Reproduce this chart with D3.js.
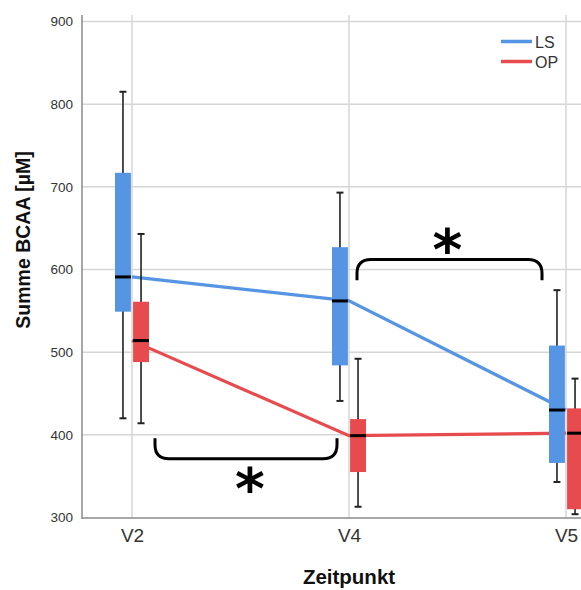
<!DOCTYPE html>
<html>
<head>
<meta charset="utf-8">
<script src="https://cdn.jsdelivr.net/npm/d3@7"></script>
<style>
  html, body { margin: 0; padding: 0; background: #fff; }
  svg { display: block; font-family: "Liberation Sans", Arial, sans-serif; }
</style>
</head>
<body>
<svg id="chart" width="581" height="590"></svg>
<script>
// Time points and groups
const categories = ["V2", "V4", "V5"];
const seriesNames = ["LS", "OP"];
const yTicks = [300, 400, 500, 600, 700, 800, 900];

// LS group: box-plot summaries per time point
const lsLow    = [420, 441, 343];
const lsQ1     = [549, 484, 366];
const lsMedian = [591, 562, 430];
const lsQ3     = [717, 627, 508];
const lsHigh   = [815, 693, 575];

// OP group: box-plot summaries per time point
const opLow    = [414, 313, 304];
const opQ1     = [488, 355, 310];
const opMedian = [514, 399, 402];
const opQ3     = [561, 419, 432];
const opHigh   = [643, 492, 468];

// Significance brackets between time points
const brackets = [
  { from: "V2", to: "V4", low: 371, high: 396, side: "below", label: "*" },
  { from: "V4", to: "V5", low: 587, high: 612, side: "above", label: "*" }
];

const colors = { LS: "#5595e3", OP: "#e84b4d" };

const series = [
  { name: "LS", low: lsLow, q1: lsQ1, med: lsMedian, q3: lsQ3, high: lsHigh },
  { name: "OP", low: opLow, q1: opQ1, med: opMedian, q3: opQ3, high: opHigh }
];

const svg = d3.select("#chart");
const plot = { left: 82, top: 15, bottom: 518, right: 640 };

const x = d3.scalePoint().domain(categories).range([132, 566]);
const y = d3.scaleLinear().domain([300, 900]).range([517.5, 21.5]);
const dodge = d3.scaleBand().domain(seriesNames).range([-17, 17]).paddingInner(0.12);
const boxW = dodge.bandwidth();

// Grid
const grid = svg.append("g");
grid.selectAll("line.h").data(yTicks.filter(t => t > 300)).join("line")
  .attr("x1", plot.left).attr("x2", plot.right)
  .attr("y1", d => y(d)).attr("y2", d => y(d))
  .attr("stroke", "#d6d6d6").attr("stroke-width", 1.5);
grid.selectAll("line.v").data(categories).join("line")
  .attr("x1", d => x(d)).attr("x2", d => x(d))
  .attr("y1", plot.top).attr("y2", plot.bottom)
  .attr("stroke", "#d6d6d6").attr("stroke-width", 1.5);

// Axes
const yAxis = d3.axisLeft(y).tickValues(yTicks).tickSize(0).tickPadding(9);
const gy = svg.append("g").attr("transform", `translate(${plot.left},0)`).call(yAxis);
gy.select(".domain").remove();
gy.selectAll("text").attr("font-size", 13.5).attr("fill", "#333")
  .attr("font-family", "Liberation Sans, Arial, sans-serif");

const xAxis = d3.axisBottom(x).tickSize(0).tickPadding(11);
const gx = svg.append("g").attr("transform", `translate(0,${plot.bottom})`).call(xAxis);
gx.select(".domain").remove();
gx.selectAll("text").attr("font-size", 19).attr("fill", "#333")
  .attr("font-family", "Liberation Sans, Arial, sans-serif");

svg.append("line").attr("x1", plot.left).attr("x2", plot.left)
  .attr("y1", plot.top).attr("y2", plot.bottom + 1)
  .attr("stroke", "#8a8a8a").attr("stroke-width", 1.5);
svg.append("line").attr("x1", plot.left).attr("x2", plot.right)
  .attr("y1", plot.bottom).attr("y2", plot.bottom)
  .attr("stroke", "#8a8a8a").attr("stroke-width", 1.5);

// Median trend lines
const line = d3.line().x((d, i) => x(categories[i])).y(d => y(d));
series.forEach(s => {
  svg.append("path").datum(s.med).attr("d", line)
    .attr("fill", "none").attr("stroke", colors[s.name]).attr("stroke-width", 3.2);
});

// Box plots
series.forEach(s => {
  const g = svg.append("g");
  categories.forEach((c, i) => {
    const cx = x(c) + dodge(s.name) + boxW / 2;
    g.append("line").attr("x1", cx).attr("x2", cx)
      .attr("y1", y(s.high[i])).attr("y2", y(s.low[i]))
      .attr("stroke", "#222").attr("stroke-width", 1.6);
    [s.high[i], s.low[i]].forEach(v => {
      g.append("line").attr("x1", cx - 3.5).attr("x2", cx + 3.5)
        .attr("y1", y(v)).attr("y2", y(v))
        .attr("stroke", "#222").attr("stroke-width", 2);
    });
    g.append("rect").attr("x", cx - boxW / 2).attr("width", boxW)
      .attr("y", y(s.q3[i])).attr("height", y(s.q1[i]) - y(s.q3[i]))
      .attr("fill", colors[s.name]);
    g.append("line").attr("x1", cx - boxW / 2).attr("x2", cx + boxW / 2)
      .attr("y1", y(s.med[i])).attr("y2", y(s.med[i]))
      .attr("stroke", "#000").attr("stroke-width", 3);
  });
});

// Significance brackets
const starSize = 57;
brackets.forEach(b => {
  const x0 = b.side === "below" ? x(b.from) + 23 : x(b.from) + 8;
  const x1 = b.side === "below" ? x(b.to) - 12 : x(b.to) - 24;
  const r = 14;
  const yt = y(b.high), yb = y(b.low);
  let d, cy, cx;
  if (b.side === "below") {
    d = `M${x0},${yt} L${x0},${yb - r} Q${x0},${yb} ${x0 + r},${yb} L${x1 - r},${yb} Q${x1},${yb} ${x1},${yb - r} L${x1},${yt}`;
    cy = yb + 22;
    cx = (x0 + x1) / 2 + 4;
  } else {
    d = `M${x0},${yb} L${x0},${yt + r} Q${x0},${yt} ${x0 + r},${yt} L${x1 - r},${yt} Q${x1},${yt} ${x1},${yt + r} L${x1},${yb}`;
    cy = yt - 18;
    cx = (x0 + x1) / 2 - 2;
  }
  svg.append("path").attr("d", d).attr("fill", "none")
    .attr("stroke", "#000").attr("stroke-width", 3);
  // asterisk glyph sits high in the em box; shift baseline so its centre lands on cy
  svg.append("text").attr("x", cx).attr("y", cy + 0.5 * starSize)
    .attr("text-anchor", "middle").attr("font-size", starSize).attr("font-weight", "bold")
    .attr("font-family", "DejaVu Sans, sans-serif")
    .text(b.label);
});

// Legend
const legend = svg.append("g");
seriesNames.forEach((n, i) => {
  const ly = 41.5 + i * 20;
  legend.append("line").attr("x1", 501).attr("x2", 532).attr("y1", ly).attr("y2", ly)
    .attr("stroke", colors[n]).attr("stroke-width", 3.5);
  legend.append("text").attr("x", 535).attr("y", ly + 6).attr("font-size", 16)
    .attr("fill", "#333").text(n);
});

// Axis titles
svg.append("text").attr("x", plot.left + (566 + 50 - plot.left) / 2).attr("y", 584)
  .attr("text-anchor", "middle").attr("font-size", 20.5).attr("font-weight", "bold")
  .attr("fill", "#111").text("Zeitpunkt");
svg.append("text").attr("transform", "translate(30,240) rotate(-90)")
  .attr("text-anchor", "middle").attr("font-size", 19.5).attr("font-weight", "bold")
  .attr("fill", "#111").text("Summe BCAA [µM]");
</script>
</body>
</html>
